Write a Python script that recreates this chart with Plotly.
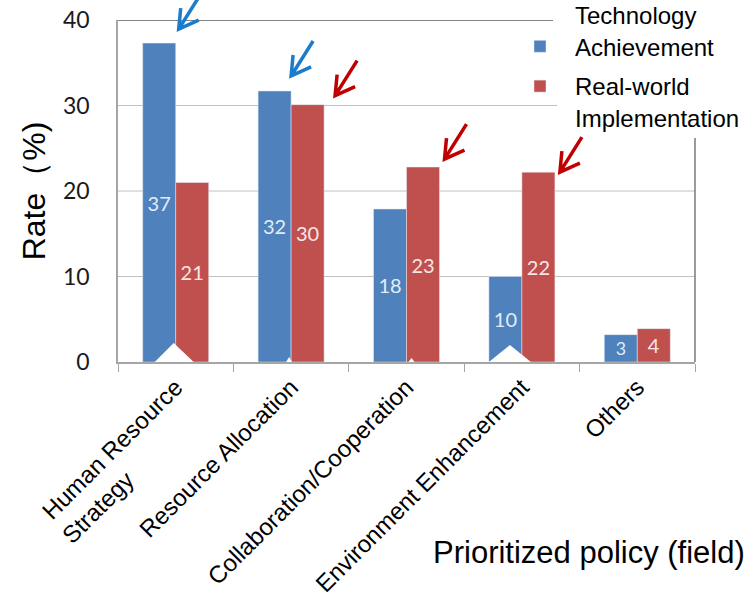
import plotly.graph_objects as go

# ---- data ----
categories = ["Human Resource<br>Strategy" + "\u00a0" * 15, "Resource Allocation",
              "Collaboration/Cooperation", "Environment Enhancement", "Others"]
tech_values = [37.3, 31.7, 17.9, 10.0, 3.2]
real_values = [21.0, 30.1, 22.8, 22.2, 3.9]
series_names = ["Technology<br>Achievement", "Real-world<br>Implementation"]
y_ticks = [0, 10, 20, 30, 40]

BLUE = "#4F81BD"
RED = "#C0504D"
ARROW_BLUE = "#1B7CCB"
ARROW_RED = "#C00000"

# plot-area geometry (pixels)
L, R, T, B = 118, 58, 20, 238
W, H = 753, 600
PW = W - L - R
PH = H - T - B

fig = go.Figure()
fig.add_trace(go.Bar(
    x=categories, y=tech_values, name=series_names[0], marker_color=BLUE,
    texttemplate="%{y:.0f}", textposition="inside", insidetextanchor="middle",
    textangle=0, textfont=dict(family="Lato", size=20, color="#e2ecf7"),
    legend="legend", hoverinfo="skip"))
fig.add_trace(go.Bar(
    x=categories, y=real_values, name=series_names[1], marker_color=RED,
    texttemplate="%{y:.0f}", textposition="inside", insidetextanchor="middle",
    textangle=0, textfont=dict(family="Lato", size=20, color="#f8e6e6"),
    legend="legend2", hoverinfo="skip"))

ymax = y_ticks[-1]
shapes = []
# gridlines (partly hidden behind the legend area, as in the original)
grid_ends = {10: 1.0, 20: 1.0, 30: (557 - L) / PW}
for v, xe in grid_ends.items():
    shapes.append(dict(type="line", xref="paper", yref="y", x0=0, x1=xe, y0=v, y1=v,
                       line=dict(color="#c0c0c0", width=1), layer="below"))
# top frame line and right frame line
shapes.append(dict(type="line", xref="paper", yref="y", x0=0, x1=(553 - L) / PW, y0=ymax, y1=ymax,
                   line=dict(color="#5a5a5a", width=1.5), layer="below"))
shapes.append(dict(type="line", xref="paper", yref="paper", x0=1, x1=1, y0=0, y1=(H - B - 138) / PH,
                   line=dict(color="#7a7a7a", width=1.5), layer="below"))

# white notches at the bar bases (pixel offsets relative to category centre)
notches = {0: "M-21,0 L-2,19 L18,0 Z", 1: "M-5,0 L-2,5 L1,0 Z",
           2: "M2,0 L5,4 L8,0 Z", 3: "M-33,0 L-12,17 L9,0 Z"}
for i, p in notches.items():
    shapes.append(dict(type="path", xref="x", yref="y", xsizemode="pixel", ysizemode="pixel",
                       xanchor=i, yanchor=0, path=p, fillcolor="white",
                       line=dict(color="white", width=0), layer="above"))

def arrow_path(dx, dy):
    return (f"M{dx+22},{dy+35} L{dx},{dy} M{dx+2},{dy+21} L{dx},{dy} L{dx+20},{dy+9}")

n = len(categories)
# (category index, bar value, x offset px of bar right edge, tip dx, tip dy, colour)
arrows = [(0, tech_values[0], 0, 3, 14, ARROW_BLUE),
          (1, tech_values[1], 0, 0, 15, ARROW_BLUE),
          (1, real_values[1], 33, 11, 9, ARROW_RED),
          (2, real_values[2], 33, 5, 8, ARROW_RED),
          (3, real_values[3], 33, 5, 0, ARROW_RED)]
for i, v, edge, dx, dy, col in arrows:
    shapes.append(dict(type="path", xref="paper", yref="paper", xsizemode="pixel", ysizemode="pixel",
                       xanchor=(i + 0.5) / n, yanchor=v / ymax, path=arrow_path(edge + dx, dy),
                       line=dict(color=col, width=3.5), layer="above"))

legend_font = dict(family="Liberation Sans, Arial", size=24, color="black")
fig.update_layout(
    width=W, height=H, autosize=False, showlegend=True,
    margin=dict(l=L, r=R, t=T, b=B, autoexpand=False),
    paper_bgcolor="white", plot_bgcolor="white",
    barmode="group", bargap=0.428, bargroupgap=0,
    font=dict(family="Liberation Sans, Arial", color="black"),
    shapes=shapes,
    legend=dict(xref="container", yref="container", x=505 / W, y=1 - 69 / H,
                xanchor="left", yanchor="bottom", bgcolor="rgba(0,0,0,0)",
                font=legend_font, valign="bottom", itemwidth=60, visible=True),
    legend2=dict(xref="container", yref="container", x=505 / W, y=1 - 64 / H,
                 xanchor="left", yanchor="top", bgcolor="rgba(0,0,0,0)",
                 font=legend_font, valign="top", itemwidth=60, visible=True),
    annotations=[dict(text="Prioritized policy (field)", xref="paper", yref="paper",
                      x=(431 - L) / PW, y=(H - B - 552) / PH, xanchor="left", yanchor="middle",
                      showarrow=False, font=dict(family="Liberation Sans, Arial", size=31, color="black"))],
)
fig.update_xaxes(
    type="category", tickangle=-45, tickson="boundaries", ticks="outside", ticklen=8,
    tickcolor="#a6a6a6", showline=True, linecolor="#a6a6a6", linewidth=1.5, showgrid=False,
    automargin=False,
    tickfont=dict(family="Liberation Sans, Arial", size=24, color="black"))
fig.update_yaxes(
    range=[y_ticks[0], y_ticks[-1]], tickvals=y_ticks, showgrid=False,
    showline=True, linecolor="#a6a6a6", linewidth=1.5, zeroline=False,
    ticks="", ticklabelstandoff=22, automargin=False,
    tickfont=dict(family="Lato", size=23, color="#1a1a1a"),
    title=dict(text="Rate（%)", standoff=8, font=dict(family="Liberation Sans, Arial", size=32, color="black")))

fig.write_html("out.html")
